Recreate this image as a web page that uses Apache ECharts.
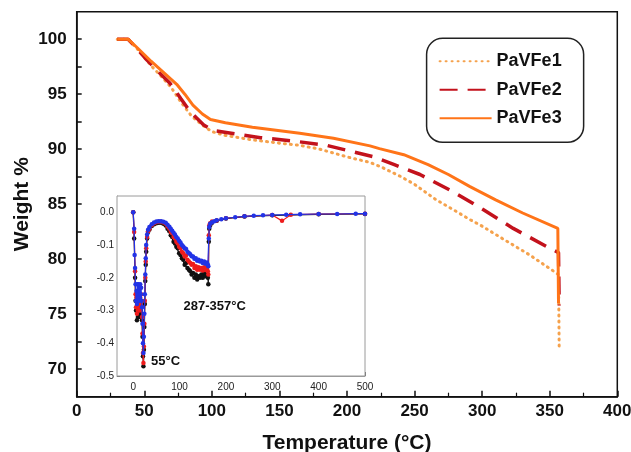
<!DOCTYPE html>
<html>
<head>
<meta charset="utf-8">
<script src="https://cdn.jsdelivr.net/npm/echarts@6/dist/echarts.min.js"></script>
<style>html,body{margin:0;padding:0;background:#fff}#c{width:631px;height:452px}</style>
</head>
<body>
<div id="c"></div>
<script>
// ---- main TGA data (Temperature °C, Weight %) ----
const pavfe1 = [[30,100],[38,100],[45,99.1],[55,97.6],[62,96.7],[70,95.6],[77,94.3],[85,93.0],[94,92.1],[100,91.6],[110,91.25],[130,90.85],[150,90.55],[165,90.35],[180,90.0],[200,89.3],[217,88.8],[225,88.4],[240,87.5],[250,86.8],[266,85.4],[280,84.4],[291,83.6],[300,83.0],[316,81.8],[335,80.4],[353,78.9],[356.5,78.6],[357,71.8]];
const pavfe2 = [[30,100],[38,100],[45,99.1],[52,98.1],[60,97.1],[69,96.0],[77,94.6],[84,93.4],[94,92.2],[101,91.7],[120,91.35],[136,91.05],[160,90.75],[185,90.35],[200,89.9],[220,89.3],[235,88.6],[254,87.7],[279,86.1],[301,84.5],[323,82.8],[350,81.0],[356.5,80.6],[357,75.8]];
const pavfe3 = [[30,100],[38,100],[45,99.2],[55,98.0],[65,96.9],[74,95.9],[80,95.0],[86,94.0],[93,93.2],[99,92.7],[110,92.4],[130,92.0],[165,91.45],[190,91.0],[217,90.3],[224,90.05],[242,89.5],[260,88.6],[275,87.7],[291,86.6],[310,85.4],[330,84.2],[356,82.8],[356.5,76.0]];
const seriesNames = ['PaVFe1','PaVFe2','PaVFe3'];
const xTicks = [0,50,100,150,200,250,300,350,400];
const yLabels = [70,75,80,85,90,95,100];
const yTicks = [70,72.5,75,77.5,80,82.5,85,87.5,90,92.5,95,97.5,100];

// ---- inset DTG data ----
const dtgBlack = [[0,0.0],[2,-0.08],[4,-0.2],[5,-0.27],[6,-0.30],[7,-0.27],[8,-0.33],[9,-0.28],[10,-0.32],[11,-0.27],[12,-0.31],[13,-0.29],[14,-0.32],[15,-0.28],[16,-0.30],[17,-0.27],[18,-0.31],[19,-0.33],[20,-0.38],[21,-0.44],[22,-0.47],[23,-0.42],[24,-0.35],[25,-0.28],[26,-0.21],[27,-0.16],[28,-0.12],[30,-0.08],[32,-0.06],[35,-0.052],[40,-0.042],[45,-0.036],[50,-0.033],[55,-0.032],[60,-0.032],[65,-0.035],[70,-0.04],[74,-0.05],[78,-0.058],[81,-0.07],[84,-0.075],[87,-0.09],[90,-0.095],[93,-0.105],[96,-0.11],[99,-0.125],[102,-0.13],[105,-0.14],[108,-0.145],[111,-0.16],[114,-0.155],[117,-0.17],[120,-0.175],[123,-0.18],[126,-0.19],[129,-0.185],[132,-0.2],[135,-0.19],[138,-0.205],[141,-0.195],[144,-0.2],[147,-0.19],[150,-0.2],[153,-0.185],[156,-0.195],[159,-0.19],[161,-0.2],[162,-0.22],[163,-0.09],[164,-0.05],[166,-0.04],[170,-0.032],[180,-0.026],[200,-0.019],[240,-0.013],[300,-0.009],[400,-0.006],[500,-0.005]];
const dtgRed = [[0,0.0],[2,-0.06],[4,-0.18],[5,-0.25],[6,-0.29],[7,-0.26],[8,-0.31],[9,-0.26],[10,-0.3],[11,-0.25],[12,-0.29],[13,-0.27],[14,-0.3],[15,-0.26],[16,-0.28],[17,-0.25],[18,-0.29],[19,-0.32],[20,-0.37],[21,-0.43],[22,-0.46],[23,-0.41],[24,-0.34],[25,-0.27],[26,-0.2],[27,-0.15],[28,-0.11],[30,-0.075],[32,-0.058],[35,-0.05],[40,-0.039],[45,-0.033],[50,-0.03],[55,-0.029],[60,-0.029],[65,-0.031],[70,-0.035],[74,-0.043],[78,-0.05],[81,-0.06],[84,-0.064],[87,-0.075],[90,-0.08],[93,-0.09],[96,-0.095],[99,-0.105],[102,-0.11],[105,-0.12],[108,-0.125],[111,-0.135],[114,-0.132],[117,-0.145],[120,-0.15],[123,-0.155],[126,-0.16],[129,-0.158],[132,-0.17],[135,-0.165],[138,-0.175],[141,-0.168],[144,-0.175],[147,-0.17],[150,-0.178],[153,-0.168],[156,-0.176],[159,-0.17],[161,-0.18],[162,-0.19],[163,-0.07],[164,-0.04],[166,-0.033],[170,-0.028],[180,-0.025],[200,-0.018],[240,-0.012],[300,-0.008],[321,-0.026],[340,-0.007],[400,-0.005],[500,-0.004]];
const dtgBlue = [[0,0.0],[2,-0.05],[3,-0.13],[4,-0.17],[5,-0.22],[6,-0.27],[7,-0.24],[8,-0.28],[9,-0.22],[10,-0.27],[11,-0.22],[12,-0.26],[13,-0.23],[14,-0.27],[15,-0.22],[16,-0.25],[17,-0.23],[18,-0.27],[19,-0.29],[20,-0.34],[21,-0.4],[22,-0.43],[23,-0.38],[24,-0.31],[25,-0.25],[26,-0.19],[27,-0.14],[28,-0.1],[30,-0.068],[32,-0.053],[35,-0.045],[40,-0.036],[45,-0.031],[50,-0.028],[55,-0.027],[60,-0.027],[65,-0.029],[70,-0.032],[74,-0.038],[78,-0.044],[81,-0.05],[84,-0.056],[87,-0.062],[90,-0.068],[93,-0.075],[96,-0.08],[99,-0.087],[102,-0.092],[105,-0.1],[108,-0.104],[111,-0.11],[114,-0.112],[117,-0.12],[120,-0.124],[123,-0.128],[126,-0.134],[129,-0.135],[132,-0.142],[135,-0.14],[138,-0.148],[141,-0.145],[144,-0.15],[147,-0.148],[150,-0.155],[153,-0.15],[156,-0.157],[159,-0.153],[161,-0.16],[162,-0.165],[163,-0.08],[164,-0.045],[166,-0.035],[170,-0.03],[175,-0.027],[180,-0.024],[190,-0.021],[200,-0.018],[220,-0.015],[240,-0.012],[260,-0.01],[280,-0.009],[300,-0.008],[330,-0.007],[360,-0.006],[400,-0.005],[440,-0.005],[480,-0.004],[500,-0.004]];
const insetXLabels = [0,100,200,300,400,500];
const insetYLabels = [0,-0.1,-0.2,-0.3,-0.4,-0.5];
const insetYTicks = [0,-0.05,-0.1,-0.15,-0.2,-0.25,-0.3,-0.35,-0.4,-0.45,-0.5];
const annotations = ['55°C','287-357°C'];

const FONT = '"Liberation Sans", Arial, sans-serif';
const chart = echarts.init(document.getElementById('c'), null, {renderer:'canvas'});

function insetSeries(name, data, color, z){
  return {name, type:'line', xAxisIndex:1, yAxisIndex:1, data, z,
    symbol:'circle', symbolSize:4.5, showSymbol:true,
    itemStyle:{color}, lineStyle:{color, width:1.2}, animation:false};
}

chart.setOption({
  animation:false,
  backgroundColor:'#fff',
  textStyle:{fontFamily:FONT},
  grid:[
    {left:76.7, right:13.7, top:11.7, bottom:55.3, show:true, borderColor:'#111', borderWidth:1.5, backgroundColor:'transparent', containLabel:false, outerBoundsMode:'none'},
    {left:117, right:266, top:196, bottom:76, show:true, borderColor:'#9a9a9a', borderWidth:1, backgroundColor:'#fff', z:3, containLabel:false, outerBoundsMode:'none'}
  ],
  legend:{
    data:seriesNames, orient:'vertical', left:426.6, top:38.3,
    padding:[14,22,15,12], itemGap:10.5, itemWidth:52, itemHeight:14,
    borderColor:'#222', borderWidth:1.5, borderRadius:16,
    itemStyle:{opacity:0},
    textStyle:{fontFamily:FONT, fontWeight:'bold', fontSize:18, color:'#111', lineHeight:18},
  },
  xAxis:[
    {type:'value', gridIndex:0, min:0, max:400, interval:50,
     name:'Temperature (°C)', nameLocation:'middle', nameGap:36, nameMoveOverlap:false,
     nameTextStyle:{fontFamily:FONT, fontWeight:'bold', fontSize:21, color:'#111'},
     axisLine:{show:true, lineStyle:{color:'#111', width:1.5}},
     axisTick:{show:true, inside:true, length:6, lineStyle:{color:'#111', width:1.5}},
     minorTick:{show:true, splitNumber:2, length:4, lineStyle:{color:'#111', width:1.2}},
     axisLabel:{customValues:xTicks, margin:6, fontFamily:FONT, fontWeight:'bold', fontSize:17, color:'#111'},
     splitLine:{show:false}},
    {type:'value', gridIndex:1, min:-35, max:500,
     axisLine:{show:true, onZero:false, lineStyle:{color:'#9a9a9a', width:1}},
     axisTick:{show:true, inside:true, length:4, customValues:insetXLabels, lineStyle:{color:'#666'}},
     axisLabel:{customValues:insetXLabels, margin:6, fontFamily:FONT, fontSize:10, color:'#222'},
     splitLine:{show:false}}
  ],
  yAxis:[
    {type:'value', gridIndex:0, min:67.5, max:102.5,
     name:'Weight %', nameLocation:'middle', nameGap:44, nameRotate:90, nameMoveOverlap:false,
     nameTextStyle:{fontFamily:FONT, fontWeight:'bold', fontSize:21, color:'#111'},
     axisLine:{show:true, lineStyle:{color:'#111', width:1.5}},
     axisTick:{show:true, inside:true, length:5, customValues:yTicks, lineStyle:{color:'#111', width:1.5}},
     axisLabel:{customValues:yLabels, margin:10, fontFamily:FONT, fontWeight:'bold', fontSize:17, color:'#111'},
     splitLine:{show:false}},
    {type:'value', gridIndex:1, min:-0.5, max:0.05,
     axisLine:{show:true, onZero:false, lineStyle:{color:'#9a9a9a', width:1}},
     axisTick:{show:true, inside:true, length:3, customValues:insetYTicks, lineStyle:{color:'#666'}},
     axisLabel:{customValues:insetYLabels, margin:3, fontFamily:FONT, fontSize:10, color:'#222',
       formatter:v=>v.toFixed(1)},
     splitLine:{show:false}}
  ],
  graphic:[
    {type:'text', left:151, top:355, z:20, style:{text:annotations[0], font:'bold 13px '+FONT, fill:'#111'}},
    {type:'text', left:183.5, top:300, z:20, style:{text:annotations[1], font:'bold 13px '+FONT, fill:'#111'}}
  ],
  series:[
    {name:seriesNames[0], type:'line', xAxisIndex:0, yAxisIndex:0, data:pavfe1, symbol:'none', z:4,
     lineStyle:{color:'#f5a24d', width:3, type:[1,5], cap:'round'}, itemStyle:{color:'#f5a24d'}},
    {name:seriesNames[1], type:'line', xAxisIndex:0, yAxisIndex:0, data:pavfe2, symbol:'none', z:5,
     lineStyle:{color:'#c3121c', width:3.5, type:[18,10]}, itemStyle:{color:'#c3121c'}},
    {name:seriesNames[2], type:'line', xAxisIndex:0, yAxisIndex:0, data:pavfe3, symbol:'none', z:6,
     lineStyle:{color:'#ff7418', width:3}, itemStyle:{color:'#ff7418'}},
    insetSeries('DTG-1', dtgBlack, '#111111', 7),
    insetSeries('DTG-2', dtgRed, '#ee1c1c', 8),
    insetSeries('DTG-3', dtgBlue, '#2233e6', 9)
  ]
});
</script>
</body>
</html>
